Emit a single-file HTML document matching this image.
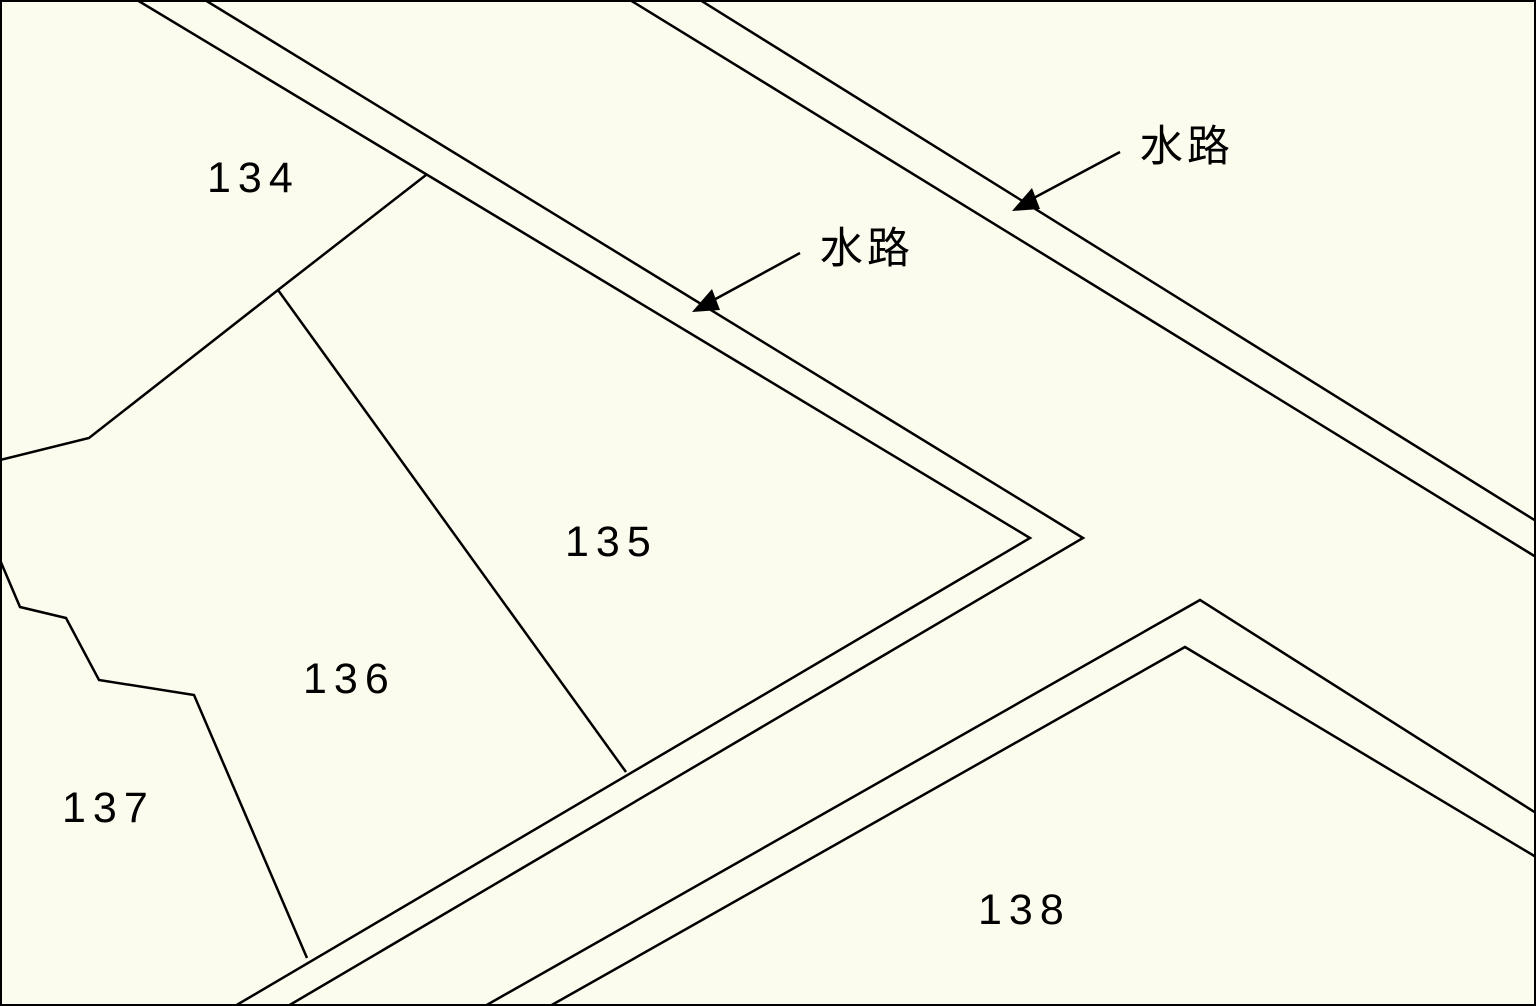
<!DOCTYPE html>
<html><head><meta charset="utf-8"><style>
html,body{margin:0;padding:0;background:#fcfcee;}
svg{display:block}
text{font-family:"Liberation Sans","Noto Sans CJK JP",sans-serif;font-size:43px;fill:#000}
</style></head><body>
<svg width="1536" height="1006" viewBox="0 0 1536 1006" xmlns="http://www.w3.org/2000/svg">
<rect x="1" y="1" width="1534" height="1004" fill="#fcfcee" stroke="#000" stroke-width="2"/>
<g fill="none" stroke="#000" stroke-width="2.5">
<polyline points="137,0 1030,538 235,1006"/>
<polyline points="205,0 1083,538 288,1006"/>
<polyline points="630,0 1536,557"/>
<polyline points="700,0 1536,521"/>
<polyline points="485,1006 1200,600 1536,813"/>
<polyline points="550,1006 1185,647 1536,857"/>
<polyline points="426,175 278,290 89,438 0,460"/>
<polyline points="278,290 626,772"/>
<polyline points="0,560 20,607 66,618 99,680 194,695 307,958"/>
<line x1="800" y1="253" x2="710" y2="302"/>
<line x1="1120" y1="152" x2="1030" y2="200"/>
</g>
<polygon points="692,312 712,289 720,310" fill="#000"/>
<polygon points="1012,211 1032,188 1040,209" fill="#000"/>
<text x="207" y="192" letter-spacing="7">134</text>
<text x="565" y="556" letter-spacing="7">135</text>
<text x="303" y="693" letter-spacing="7">136</text>
<text x="62" y="822" letter-spacing="7">137</text>
<text x="978" y="924" letter-spacing="7">138</text>
<text x="820" y="263" font-size="42" letter-spacing="4">水路</text>
<text x="1140" y="161" font-size="42" letter-spacing="4">水路</text>
</svg>
</body></html>
